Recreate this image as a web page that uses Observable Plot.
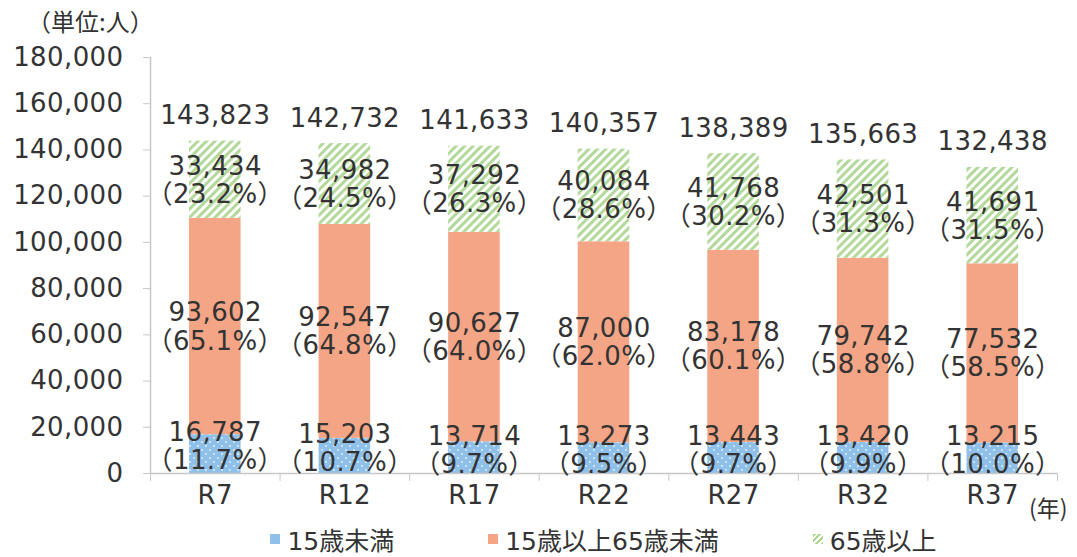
<!DOCTYPE html>
<html><head><meta charset="utf-8">
<script src="https://cdn.jsdelivr.net/npm/d3@7"></script>
<script src="https://cdn.jsdelivr.net/npm/@observablehq/plot@0.6"></script>
<style>
body{margin:0;background:#fff;font-family:"DejaVu Sans","Noto Sans CJK JP",sans-serif;color:#333;}
#wrap{position:relative;width:1077px;height:557px;}
#unit{position:absolute;left:27px;top:3px;font-size:24px;font-family:"Noto Sans CJK JP";}
#top{height:40px;}
#nen{position:absolute;left:1029px;top:490px;font-size:23px;font-family:"Noto Sans CJK JP";}
#legend{display:flex;justify-content:center;gap:94px;margin-left:150px;width:907px;height:37px;align-items:center;font-size:25px;}
.item{display:flex;align-items:center;}
.sw{width:10px;height:10px;margin-right:7px;}
</style></head>
<body><div id="wrap"><div id="top"></div><div id="unit">（単位:人）</div><div id="chart"></div><div id="nen">(年)</div><div id="legend"></div></div>
<script>
const categories = ["R7","R12","R17","R22","R27","R32","R37"];
const under15 = [16787,15203,13714,13273,13443,13420,13215];
const working = [93602,92547,90627,87000,83178,79742,77532];
const elderly = [33434,34982,37292,40084,41768,42501,41691];
const totals = [143823,142732,141633,140357,138389,135663,132438];
const pctUnder15 = ["11.7","10.7","9.7","9.5","9.7","9.9","10.0"];
const pctWorking = ["65.1","64.8","64.0","62.0","60.1","58.8","58.5"];
const pctElderly = ["23.2","24.5","26.3","28.6","30.2","31.3","31.5"];
const seriesNames = ["15歳未満","15歳以上65歳未満","65歳以上"];
const yTicks = [0,20000,40000,60000,80000,100000,120000,140000,160000,180000];

const fills = ["url(#patBlue)","#f4a585","url(#patGreen)"];
const fmt = d3.format(",");

const rows = [];
categories.forEach((c,i)=>{
  const vals=[under15[i],working[i],elderly[i]];
  const pcts=[pctUnder15[i],pctWorking[i],pctElderly[i]];
  let acc=0;
  vals.forEach((v,s)=>{rows.push({i,c,s,v,pct:pcts[s],y1:acc,y2:acc+v});acc+=v;});
});
const totalRows = categories.map((c,i)=>({i,c,t:totals[i]}));

const barMarks = [0,1,2].map(s=>Plot.rectY(rows.filter(r=>r.s===s),{x1:d=>d.i,x2:d=>d.i+1,y1:"y1",y2:"y2",fill:fills[s],insetLeft:39,insetRight:39}));
const labelMarks = [0,1,2].map(s=>Plot.text(rows.filter(r=>r.s===s),{x:d=>d.i+0.5,y:d=>(d.y1+d.y2)/2,dy:s===0?-8:0,text:d=>`${fmt(d.v)}\n（${d.pct}%）`,lineHeight:1.08,fontSize:26,fill:"#333"}));

const plot = Plot.plot({
  width:1077,height:480,marginTop:17,marginBottom:47,marginLeft:150,marginRight:20,
  style:{fontFamily:'"DejaVu Sans","Noto Sans CJK JP",sans-serif',fontSize:"26px",color:"#333",background:"white",overflow:"visible",letterSpacing:"0.4px"},
  x:{type:"linear",domain:[0,categories.length]},
  y:{domain:[0,180000]},
  marks:[
    ...barMarks,
    Plot.ruleY([0],{stroke:"#c8c8c8",strokeWidth:1.5}),
    Plot.ruleX([0],{y1:0,y2:180000,stroke:"#c8c8c8",strokeWidth:1.5}),
    Plot.axisY({ticks:yTicks,tickFormat:fmt,tickSize:7,tickPadding:20,stroke:"#c8c8c8",fill:"#333",fontSize:26,label:null}),
    Plot.axisX({ticks:d3.range(categories.length+1),tickFormat:()=>"",tickSize:8,stroke:"#c8c8c8",label:null}),
    Plot.axisX({ticks:d3.range(categories.length).map(i=>i+0.5),tickFormat:d=>categories[Math.floor(d)],tickSize:0,tickPadding:12,fill:"#333",fontSize:26,label:null}),
    ...labelMarks,
    Plot.text(totalRows,{x:d=>d.i+0.5,y:"t",text:d=>fmt(d.t),lineAnchor:"bottom",dy:-17,fontSize:26,fill:"#333"})
  ]
});
document.getElementById("chart").appendChild(plot);

const svg = d3.select(plot);
const defs = svg.insert("defs",":first-child");
const pb = defs.append("pattern").attr("id","patBlue").attr("patternUnits","userSpaceOnUse").attr("width",8).attr("height",8);
pb.append("rect").attr("width",8).attr("height",8).attr("fill","#8fc0ea");
pb.append("circle").attr("cx",2).attr("cy",2).attr("r",0.9).attr("fill","#ffffff").attr("opacity",0.8);
pb.append("circle").attr("cx",6).attr("cy",6).attr("r",0.9).attr("fill","#ffffff").attr("opacity",0.8);
const pg = defs.append("pattern").attr("id","patGreen").attr("patternUnits","userSpaceOnUse").attr("width",6).attr("height",6).attr("patternTransform","rotate(45)");
pg.append("rect").attr("width",6).attr("height",6).attr("fill","#ffffff");
pg.append("rect").attr("width",3).attr("height",6).attr("fill","#b3d99a");

const swatchCss = ["#8fc0ea","#f4a585","repeating-linear-gradient(-45deg,#add68f 0 2px,#fff 2px 4px)"];
const legend = d3.select("#legend");
seriesNames.forEach((n,s)=>{
  const it = legend.append("div").attr("class","item");
  it.append("div").attr("class","sw").style("background",swatchCss[s]);
  it.append("span").text(n);
});
</script></body></html>
